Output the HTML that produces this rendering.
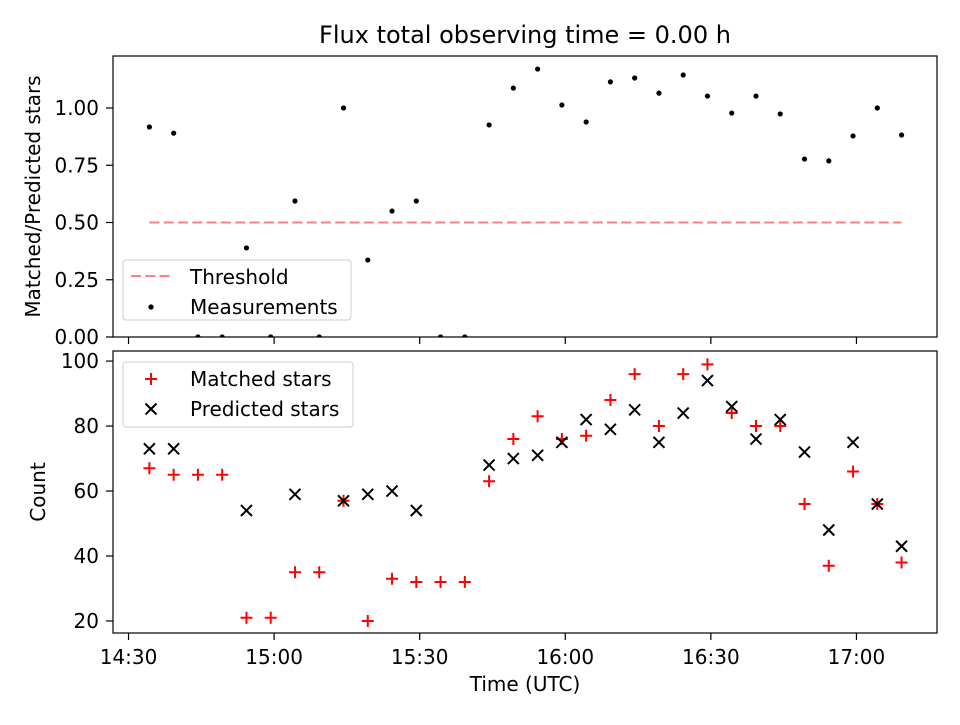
<!DOCTYPE html>
<html><head><meta charset="utf-8"><style>
html,body{margin:0;padding:0;background:#fff;}
svg text{font-family:"DejaVu Sans","Liberation Sans",sans-serif;}
</style></head><body>
<svg id="chart" width="960" height="720" viewBox="0 0 960 720" xmlns="http://www.w3.org/2000/svg">
<rect width="960" height="720" fill="#fff"/>
</svg>
<script>
// ---- data ----
const timeLabels = ["14:30","15:00","15:30","16:00","16:30","17:00"];
const tickMinutes = [870,900,930,960,990,1020];
const sampleMinutes = [874.3,879.3,884.3,889.3,894.3,899.3,904.3,909.3,914.3,919.3,924.3,929.3,934.3,939.3,944.3,949.3,954.3,959.3,964.3,969.3,974.3,979.3,984.3,989.3,994.3,999.3,1004.3,1009.3,1014.3,1019.3,1024.3,1029.3];
const ratioValues = [0.917,0.89,0,0,0.389,0,0.594,0,1.0,0.336,0.55,0.594,0,0,0.926,1.087,1.17,1.013,0.939,1.114,1.131,1.065,1.144,1.052,0.978,1.052,0.974,0.777,0.769,0.878,1.0,0.882];
const matchedStars = [67,65,65,65,21,21,35,35,57,20,33,32,32,32,63,76,83,76,77,88,96,80,96,99,84,80,80,56,37,66,56,38];
const predictedStars = [73,73,null,null,54,null,59,null,57,59,60,54,null,null,68,70,71,75,82,79,85,75,84,94,86,76,82,72,48,75,56,43];
const thresholdValue = 0.5;
const ratioTicks = [0,0.25,0.5,0.75,1.0];
const ratioTickLabels = ["0.00","0.25","0.50","0.75","1.00"];
const countTicks = [20,40,60,80,100];

const NS="http://www.w3.org/2000/svg";
const svg=document.getElementById('chart');
function el(tag,attrs,parent){const e=document.createElementNS(NS,tag);for(const k in attrs)e.setAttribute(k,attrs[k]);(parent||svg).appendChild(e);return e;}
function txt(s,attrs){const e=el('text',attrs);e.textContent=s;return e;}

const FS=20;
const X0=113,X1=937;
const xMin=866.8,xMax=1036.6;
const xs=m=>X0+(m-xMin)/(xMax-xMin)*(X1-X0);
const T0=56,T1=337, rMin=0, rMax=1.2271;
const yr=v=>T1-(v-rMin)/(rMax-rMin)*(T1-T0);
const B0=351,B1=633, cMin=16.3, cMax=103.1;
const yc=v=>B1-(v-cMin)/(cMax-cMin)*(B1-B0);

txt("Flux total observing time = 0.00 h",{x:525,y:43,'font-size':24,'text-anchor':'middle',});

const defs=el('defs',{});
const c1=el('clipPath',{id:'ctop'},defs);el('rect',{x:X0,y:T0,width:X1-X0,height:T1-T0},c1);
const c2=el('clipPath',{id:'cbot'},defs);el('rect',{x:X0,y:B0,width:X1-X0,height:B1-B0},c2);

const th=el('line',{x1:xs(sampleMinutes[0]),x2:xs(sampleMinutes[sampleMinutes.length-1]),y1:yr(thresholdValue),y2:yr(thresholdValue),stroke:'#ff7f7f','stroke-width':2,'stroke-dasharray':'10,4.3'});



const gTop=el('g',{'clip-path':'url(#ctop)'});
ratioValues.forEach((v,i)=>{
  const c=el('circle',{cx:xs(sampleMinutes[i]),cy:yr(v),r:2.6,fill:'#000'},gTop);
  
  
});

const gBot=el('g',{'clip-path':'url(#cbot)'});
matchedStars.forEach((v,i)=>{
  if(v==null)return;
  const x=xs(sampleMinutes[i]),y=yc(v);
  const p=el('path',{d:`M${x-6},${y}H${x+6}M${x},${y-6}V${y+6}`,stroke:'#f00','stroke-width':2,fill:'none'},gBot);
  
  
});
predictedStars.forEach((v,i)=>{
  if(v==null)return;
  const x=xs(sampleMinutes[i]),y=yc(v);
  const p=el('path',{d:`M${x-5.5},${y-5.5}L${x+5.5},${y+5.5}M${x-5.5},${y+5.5}L${x+5.5},${y-5.5}`,stroke:'#000','stroke-width':2,fill:'none'},gBot);
  
  
});

const f1=el('rect',{x:X0,y:T0,width:X1-X0,height:T1-T0,fill:'none',stroke:'#000','stroke-width':1.2});

const f2=el('rect',{x:X0,y:B0,width:X1-X0,height:B1-B0,fill:'none',stroke:'#000','stroke-width':1.2});


tickMinutes.forEach((m,i)=>{
  const x=xs(m);
  el('line',{x1:x,x2:x,y1:T1,y2:T1+7,stroke:'#000','stroke-width':1.2});
  el('line',{x1:x,x2:x,y1:B1,y2:B1+7,stroke:'#000','stroke-width':1.2});
  const t=txt(timeLabels[i],{x:x,y:B1+31,'font-size':FS,'text-anchor':'middle'});
  
  
});
ratioTicks.forEach((v,i)=>{
  const y=yr(v);
  el('line',{x1:X0-7,x2:X0,y1:y,y2:y,stroke:'#000','stroke-width':1.2});
  const t=txt(ratioTickLabels[i],{x:X0-14,y:y+7,'font-size':FS,'text-anchor':'end'});
  
  
});
countTicks.forEach(v=>{
  const y=yc(v);
  el('line',{x1:X0-7,x2:X0,y1:y,y2:y,stroke:'#000','stroke-width':1.2});
  const t=txt(String(v),{x:X0-14,y:y+7,'font-size':FS,'text-anchor':'end'});
  
  
});

txt("Time (UTC)",{x:525,y:691,'font-size':FS,'text-anchor':'middle',});
txt("Matched/Predicted stars",{x:0,y:0,'font-size':FS,'text-anchor':'middle',transform:`translate(40,${(T0+T1)/2}) rotate(-90)`,});
txt("Count",{x:0,y:0,'font-size':FS,'text-anchor':'middle',transform:`translate(45,${(B0+B1)/2}) rotate(-90)`,});

const lg1=el('g',{});
el('rect',{x:123,y:260,width:228,height:60,rx:3,fill:'#fff','fill-opacity':0.8,stroke:'#ccc'},lg1);
el('line',{x1:131,x2:171,y1:276,y2:276,stroke:'#ff7f7f','stroke-width':2,'stroke-dasharray':'10,4.3'},lg1);
el('circle',{cx:151,cy:307,r:2.6,fill:'#000'},lg1);
const l1=el('text',{x:190,y:284,'font-size':FS},lg1);l1.textContent="Threshold";
const l2=el('text',{x:190,y:314,'font-size':FS},lg1);l2.textContent="Measurements";

const lg2=el('g',{});
el('rect',{x:123,y:362,width:230,height:65,rx:3,fill:'#fff','fill-opacity':0.8,stroke:'#ccc'},lg2);
el('path',{d:'M145,379H157M151,373V385',stroke:'#f00','stroke-width':2},lg2);
el('path',{d:'M145.5,403.5L156.5,414.5M145.5,414.5L156.5,403.5',stroke:'#000','stroke-width':2},lg2);
const l3=el('text',{x:190,y:386,'font-size':FS},lg2);l3.textContent="Matched stars";
const l4=el('text',{x:190,y:416,'font-size':FS},lg2);l4.textContent="Predicted stars";
</script>
</body></html>
